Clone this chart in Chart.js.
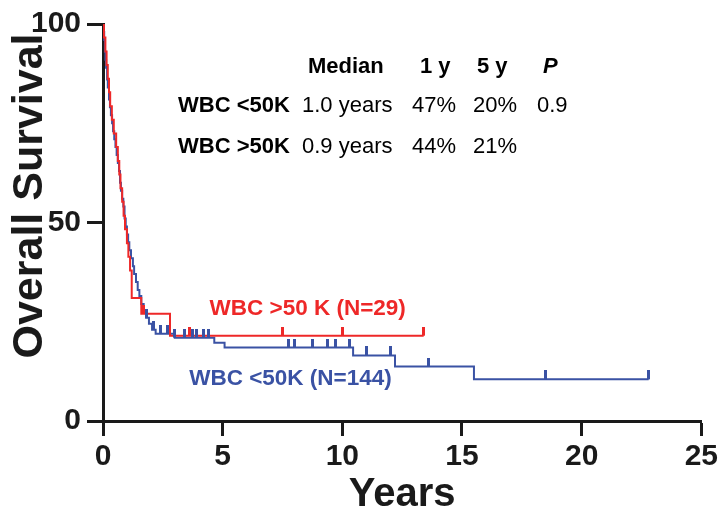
<!DOCTYPE html>
<html>
<head>
<meta charset="utf-8">
<script src="https://cdn.jsdelivr.net/npm/chart.js@4/dist/chart.umd.min.js"></script>
<style>
  html, body { margin: 0; padding: 0; background: #fff; }
  #wrap { width: 721px; height: 517px; }
</style>
</head>
<body>
<div id="wrap"><canvas id="km" width="721" height="517"></canvas></div>
<script>
// Kaplan-Meier steps: time (years) and survival (%) after each drop
var redTimes = [0, 0.04, 0.1, 0.15, 0.2, 0.25, 0.3, 0.37, 0.45, 0.55, 0.62, 0.68, 0.73, 0.8, 0.86, 0.92, 1.0, 1.06, 1.13, 1.2, 1.6, 2.8, 13.4];
var redSurv  = [100, 96.6, 93.1, 89.7, 86.2, 82.8, 79.3, 75.9, 72.4, 69.0, 65.5, 62.1, 58.6, 55.2, 51.7, 48.3, 44.8, 41.4, 37.9, 31.0, 27.0, 21.5, 21.5];
var redCensored = [1.7, 3.6, 7.5, 10.0, 13.4];

var blueTimes = [0, 0.02, 0.05, 0.08, 0.1, 0.13, 0.17, 0.2, 0.25, 0.29, 0.33, 0.38, 0.42, 0.47, 0.52, 0.57, 0.62, 0.67, 0.71, 0.75, 0.8, 0.85, 0.9, 0.95, 1.0, 1.05, 1.1, 1.17, 1.25, 1.3, 1.38, 1.45, 1.52, 1.6, 1.7, 1.8, 1.92, 2.05, 2.2, 3.0, 4.65, 5.08, 10.45, 12.2, 15.5, 22.8];
var blueSurv  = [100, 98, 96, 93, 91, 89, 86, 84, 81, 79, 77, 75, 73, 71, 69, 67, 65, 63, 60, 58, 56, 54, 51, 49, 47, 45, 43, 41, 39, 37, 35, 33, 31.5, 29.5, 27.5, 26, 24.5, 23, 22, 21, 19.7, 18.5, 16.5, 13.7, 10.5, 10.5];
var blueCensored = [1.8, 2.1, 2.4, 2.7, 3.0, 3.4, 3.75, 3.9, 4.2, 4.4, 7.75, 8.0, 8.75, 9.4, 9.7, 10.3, 11.0, 12.0, 13.6, 18.5, 22.8];

var xTicks = [0, 5, 10, 15, 20, 25];
var yTicks = [0, 50, 100];

var yTitle = "Overall Survival";
var redLabel = "WBC >50 K (N=29)";
var blueLabel = "WBC <50K (N=144)";

// summary table
var tableHeader = ["Median", "1 y", "5 y", "P"];
var groupNames = ["WBC <50K", "WBC >50K"];
var medians = ["1.0 years", "0.9 years"];
var oneYear = ["47%", "44%"];
var fiveYear = ["20%", "21%"];
var pValues = ["0.9", ""];

var RED = "#ee2828";
var BLUE = "#3a52a4";
var INK = "#1a1a1a";
var SANS = '"Liberation Sans", Arial, sans-serif';

function stepPoints(times, surv) {
  return times.map(function (t, i) { return { x: t, y: surv[i] }; });
}

// survival value of the curve at time t
function survivalAt(times, surv, t) {
  var s = surv[0];
  for (var i = 0; i < times.length; i++) {
    if (times[i] <= t) s = surv[i];
  }
  return s;
}

function censorPoints(cens, times, surv) {
  return cens.map(function (t) { return { x: t, y: survivalAt(times, surv, t) }; });
}

// small upward tick used as censor mark
function tickMark(color) {
  var c = document.createElement("canvas");
  c.width = 3;
  c.height = 18;
  var g = c.getContext("2d");
  g.fillStyle = color;
  g.fillRect(0, 0, 3, 9);
  return c;
}

var textPlugin = {
  id: "kmText",
  afterDatasetsDraw: function (chart) {
    var ctx = chart.ctx;
    var xs = chart.scales.x, ys = chart.scales.y;
    ctx.save();
    ctx.textBaseline = "middle";
    ctx.textAlign = "left";

    // y axis title, sits a bit above the axis centre like the original
    ctx.save();
    ctx.translate(28, 196);
    ctx.rotate(-Math.PI / 2);
    ctx.textAlign = "center";
    ctx.fillStyle = INK;
    ctx.font = "bold 43px " + SANS;
    ctx.fillText(yTitle, 0, 2);
    ctx.restore();

    ctx.font = "bold 22.5px " + SANS;
    ctx.fillStyle = RED;
    ctx.fillText(redLabel, xs.getPixelForValue(4.45), ys.getPixelForValue(28.2));
    ctx.fillStyle = BLUE;
    ctx.fillText(blueLabel, xs.getPixelForValue(3.6), ys.getPixelForValue(10.7));

    ctx.fillStyle = "#000";
    var hx = [308, 420, 477, 543];
    ctx.font = "bold 22px " + SANS;
    for (var i = 0; i < 3; i++) ctx.fillText(tableHeader[i], hx[i], 67);
    ctx.font = "italic bold 22px " + SANS;
    ctx.fillText(tableHeader[3], hx[3], 67);

    var rowY = [106, 147];
    for (var r = 0; r < 2; r++) {
      ctx.font = "bold 22px " + SANS;
      ctx.fillText(groupNames[r], 178, rowY[r]);
      ctx.font = "22px " + SANS;
      ctx.fillText(medians[r], 302, rowY[r]);
      ctx.fillText(oneYear[r], 412, rowY[r]);
      ctx.fillText(fiveYear[r], 473, rowY[r]);
      ctx.fillText(pValues[r], 537, rowY[r]);
    }
    ctx.restore();
  }
};

var ctx = document.getElementById("km").getContext("2d");
new Chart(ctx, {
  type: "line",
  data: {
    datasets: [
      {
        label: "red censored",
        type: "scatter",
        data: censorPoints(redCensored, redTimes, redSurv),
        pointStyle: tickMark(RED),
        order: -1
      },
      {
        label: "blue censored",
        type: "scatter",
        data: censorPoints(blueCensored, blueTimes, blueSurv),
        pointStyle: tickMark(BLUE),
        order: -1
      },
      {
        label: redLabel,
        data: stepPoints(redTimes, redSurv),
        borderColor: RED,
        borderWidth: 2,
        stepped: "before",
        pointRadius: 0,
        fill: false,
        order: 0
      },
      {
        label: blueLabel,
        data: stepPoints(blueTimes, blueSurv),
        borderColor: BLUE,
        borderWidth: 2,
        stepped: "before",
        pointRadius: 0,
        fill: false,
        order: 1
      }
    ]
  },
  options: {
    responsive: false,
    animation: false,
    devicePixelRatio: 1,
    layout: { padding: { top: 20, right: 18, left: 0, bottom: 0 } },
    plugins: { legend: { display: false }, tooltip: { enabled: false } },
    scales: {
      x: {
        type: "linear",
        min: 0,
        max: 25,
        afterBuildTicks: function (scale) {
          scale.ticks = xTicks.map(function (v) { return { value: v }; });
        },
        afterFit: function (scale) { scale.height = 96; },
        border: { display: true, width: 3, color: INK },
        grid: { drawOnChartArea: false, drawTicks: true, tickLength: 15, tickWidth: 3, tickColor: INK },
        ticks: { color: INK, padding: 3, maxRotation: 0, font: { family: SANS, size: 30, weight: "bold" } },
        title: {
          display: true,
          text: "Years",
          color: INK,
          padding: { top: 0, bottom: 2 },
          font: { family: SANS, size: 40, weight: "bold", lineHeight: 1.0 }
        }
      },
      y: {
        type: "linear",
        min: 0,
        max: 100,
        afterBuildTicks: function (scale) {
          scale.ticks = yTicks.map(function (v) { return { value: v }; });
        },
        afterFit: function (scale) { scale.width = 103; },
        border: { display: true, width: 3, color: INK },
        grid: { drawOnChartArea: false, drawTicks: true, tickLength: 16, tickWidth: 3, tickColor: INK },
        ticks: { color: INK, padding: 6, font: { family: SANS, size: 30, weight: "bold" } },
        title: { display: false }
      }
    }
  },
  plugins: [textPlugin]
});
</script>
</body>
</html>
